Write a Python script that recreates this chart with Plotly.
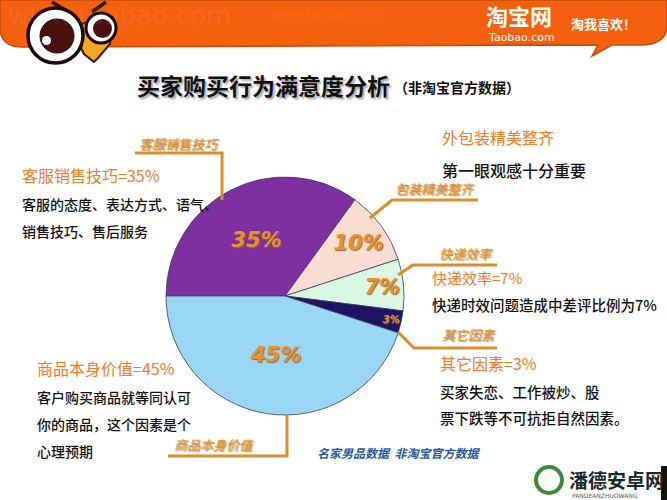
import plotly.graph_objects as go

# ---- data ----
categories = ["客服销售技巧", "外包装精美整齐", "快递效率", "其它因素", "商品本身价值"]
values = [35, 10, 7, 3, 45]
slice_colors = ["#7E2FA0", "#F9DDD3", "#DAF7E4", "#1E1463", "#9AD7F7"]
label_sizes = [21, 21, 21, 12, 21]

title_main = "买家购买行为满意度分析"
title_sub = "（非淘宝官方数据）"
source_note = "名家男品数据  非淘宝官方数据"

descriptions = {
    "客服销售技巧": ["客服销售技巧=35%", "客服的态度、表达方式、语气、", "销售技巧、售后服务"],
    "外包装精美整齐": ["外包装精美整齐", "第一眼观感十分重要"],
    "快递效率": ["快递效率=7%", "快递时效问题造成中差评比例为7%"],
    "其它因素": ["其它因素=3%", "买家失恋、工作被炒、股", "票下跌等不可抗拒自然因素。"],
    "商品本身价值": ["商品本身价值=45%", "客户购买商品就等同认可", "你的商品，这个因素是个", "心理预期"],
}
callouts = ["客服销售技巧", "包装精美整齐", "快递效率", "其它因素", "商品本身价值"]

W, H = 667, 500
FONT = "Noto Sans CJK SC"
ORANGE = "#EE7A2A"
CALL = "#E0972F"
LINE = "#D98E2B"

fig = go.Figure()

cx, cy, r = 285, 296, 119
fig.add_trace(go.Pie(
    labels=categories, values=values, sort=False, direction="clockwise",
    rotation=270,
    marker=dict(colors=slice_colors, line=dict(color="#3a3a5a", width=0.8)),
    texttemplate="%{value}%", textposition="inside", insidetextorientation="horizontal",
    textfont=dict(family="DejaVu Sans", size=label_sizes, color="#E8902E",
                  style="italic", weight="bold", shadow="1px 1px 1px #8a6a40"),
    domain=dict(x=[(cx - r) / W, (cx + r) / W], y=[1 - (cy + r) / H, 1 - (cy - r) / H]),
    showlegend=False, hoverinfo="label+value",
))

shapes = []
ann = []

def text(x, y, s, size, color, bold=False, italic=False, family=FONT, anchor="left", shadow=None, weight=None):
    f = dict(family=family, size=size, color=color)
    if bold:
        f["weight"] = "bold"
    elif weight:
        f["weight"] = weight
    if italic:
        f["style"] = "italic"
    if shadow:
        f["shadow"] = shadow
    ann.append(dict(x=x, y=y, xref="x", yref="y", text=s, showarrow=False,
                    xanchor=anchor, yanchor="middle", font=f))

# ---- header banner ----
shapes.append(dict(type="path", xref="x", yref="y",
                   path="M0,0 L667,0 L667,28 Q665,44 642,45 L612,45 L592,56 L598,45 L22,47 Q2,47 0,30 Z",
                   fillcolor="#F4600E", line=dict(color="#C94A08", width=1.5), layer="above"))
text(6, 16, "www.taobao.com", 26, "rgba(255,255,255,0.07)", family="DejaVu Sans")
text(270, 13, "www.taobao.com", 13, "rgba(255,255,255,0.08)", family="DejaVu Sans")
text(484, 15, "淘宝网", 22, "white", bold=True)
text(486, 37, "Taobao.com", 11, "white", family="DejaVu Sans")
text(569, 23, "淘我喜欢！", 13, "white", bold=True)

# bee logo
shapes += [
    dict(type="line", xref="x", yref="y", x0=72, y0=14, x1=52, y1=2, line=dict(color="#3a1a0a", width=3.5), layer="above"),
    dict(type="line", xref="x", yref="y", x0=92, y0=12, x1=106, y1=2, line=dict(color="#3a1a0a", width=3.5), layer="above"),
    dict(type="path", xref="x", yref="y", path="M70,26 L112,18 L110,44 L98,58 L94,62 L84,54 Z",
         fillcolor="#F5A623", line=dict(color="#3a1a0a", width=2), layer="above"),
    dict(type="circle", xref="x", yref="y", x0=28, y0=8, x1=83, y1=63,
         fillcolor="white", line=dict(color="#1a0a05", width=3.5), layer="above"),
    dict(type="circle", xref="x", yref="y", x0=40, y0=19, x1=74, y1=53,
         fillcolor="#4a0f0f", line=dict(color="#1a0a05", width=1), layer="above"),
    dict(type="circle", xref="x", yref="y", x0=42, y0=36, x1=51, y1=45,
         fillcolor="white", line=dict(width=0), layer="above"),
    dict(type="circle", xref="x", yref="y", x0=86, y0=13, x1=116, y1=43,
         fillcolor="white", line=dict(color="#1a0a05", width=3), layer="above"),
    dict(type="circle", xref="x", yref="y", x0=93, y0=19, x1=112, y1=38,
         fillcolor="#4a0f0f", line=dict(width=0), layer="above"),
]

# ---- title ----
text(135, 85, title_main, 23, "#111", bold=True, shadow="2px 2px 2px #aaa")
text(392, 87, title_sub, 14, "#111", bold=True)

# ---- callout lines ----
def poly(pts):
    d = "M" + " L".join(f"{x},{y}" for x, y in pts)
    shapes.append(dict(type="path", xref="x", yref="y", path=d,
                       line=dict(color=LINE, width=3), layer="above"))

poly([(135, 153), (222, 153), (222, 200)])
poly([(478, 200), (392, 200), (370, 218)])
poly([(497, 265), (413, 265), (398, 275)])
poly([(497, 348), (414, 348), (398, 332)])
poly([(168, 456), (287, 456), (287, 415)])

cs = "1px 1px 1px #b08050"
text(137, 143, callouts[0], 13, CALL, italic=True, shadow=cs)
text(393, 188, callouts[1], 13, CALL, italic=True, shadow=cs)
text(437, 253, callouts[2], 13, CALL, italic=True, shadow=cs)
text(440, 334, callouts[3], 13, CALL, italic=True, shadow=cs)
text(172, 444, callouts[4], 13, CALL, italic=True, shadow=cs)

# ---- descriptions ----
def block(x, y0, lines, head_size, body_size, step):
    text(x, y0, lines[0], head_size, ORANGE)
    for i, s in enumerate(lines[1:]):
        text(x, y0 + step * (i + 1) + 2, s, body_size, "#111", weight=500)

block(20, 175, descriptions["客服销售技巧"], 16, 14, 27)
block(440, 137, descriptions["外包装精美整齐"], 16, 16, 31)
block(430, 277, descriptions["快递效率"], 15, 14.5, 25)
block(438, 363, descriptions["其它因素"], 16, 14.5, 26)
block(35, 368, descriptions["商品本身价值"], 16, 14, 27)

text(315, 452, source_note, 12, "#2a5a9a", bold=True, italic=True)

# ---- bottom-right watermark ----
shapes.append(dict(type="circle", xref="x", yref="y", x0=536, y0=467, x1=562, y1=493,
                   fillcolor="white", line=dict(color="#3a8a3a", width=4), layer="above"))
shapes.append(dict(type="rect", xref="x", yref="y", x0=661, y0=466, x1=667, y1=500,
                   fillcolor="#111", line=dict(width=0), layer="above"))
text(567, 479, "潘德安卓网", 19, "#1a2a2a", bold=True)
text(570, 495, "PANDEANZHUOWANG", 6, "#555", family="DejaVu Sans")

fig.update_layout(
    width=W, height=H, margin=dict(l=0, r=0, t=0, b=0),
    paper_bgcolor="white", plot_bgcolor="rgba(0,0,0,0)",
    xaxis=dict(range=[0, W], visible=False, fixedrange=True, domain=[0, 1]),
    yaxis=dict(range=[H, 0], visible=False, fixedrange=True, domain=[0, 1]),
    shapes=shapes, annotations=ann,
)
fig.write_html("out.html", config={"displayModeBar": False},
               post_script="document.body.style.margin='0px';document.body.style.overflow='hidden';")
